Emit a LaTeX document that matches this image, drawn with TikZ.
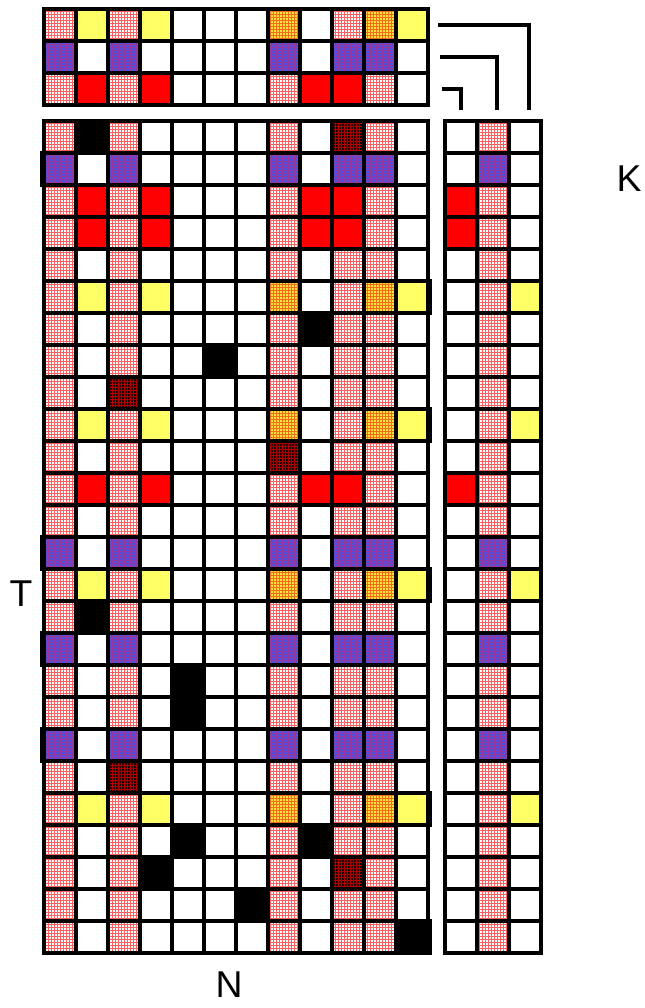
\documentclass[tikz,border=0pt]{standalone}
\usepackage{fontspec}
\setmainfont{Liberation Sans}
\usetikzlibrary{patterns}
\definecolor{cellyellow}{RGB}{255,255,102}
\definecolor{cellblue}{RGB}{80,80,220}
\definecolor{cellorange}{RGB}{255,225,70}
\definecolor{celldark}{RGB}{35,0,0}
\definecolor{plaidred}{RGB}{255,95,95}
\definecolor{plaidblue}{RGB}{150,55,160}
\definecolor{plaidorange}{RGB}{240,110,20}
\definecolor{plaiddark}{RGB}{170,0,0}
\pgfdeclarepatternformonly{plaid}{\pgfpointorigin}{\pgfpoint{2.2pt}{2.2pt}}{\pgfpoint{2.2pt}{2.2pt}}{%
  \pgfsetlinewidth{0.6pt}%
  \pgfpathmoveto{\pgfpoint{0pt}{1.1pt}}\pgfpathlineto{\pgfpoint{2.2pt}{1.1pt}}%
  \pgfpathmoveto{\pgfpoint{1.1pt}{0pt}}\pgfpathlineto{\pgfpoint{1.1pt}{2.2pt}}%
  \pgfusepath{stroke}}

\begin{document}
\begin{tikzpicture}[x=0.75pt,y=-0.75pt,font=\fontsize{28}{30}\selectfont,
  cellW/.style={fill=white},
  cellY/.style={fill=cellyellow},
  cellR/.style={fill=red},
  cellK/.style={fill=black},
  cellP/.style={fill=white,postaction={pattern=plaid,pattern color=plaidred}},
  cellB/.style={fill=cellblue,postaction={pattern=plaid,pattern color=plaidblue}},
  cellO/.style={fill=cellorange,postaction={pattern=plaid,pattern color=plaidorange}},
  cellD/.style={fill=celldark,postaction={pattern=plaid,pattern color=plaiddark}},
  gridline/.style={line width=3.3pt,line cap=rect},
  bracket/.style={line width=2.8pt},
  axislabel/.style={inner sep=1pt}]
\useasboundingbox (0,0) rectangle (644,1008);
\foreach \row [count=\r] in {
  {P,Y,P,Y,W,W,W,O,W,P,O,Y},
  {B,W,B,W,W,W,W,B,W,B,B,W},
  {P,R,P,R,W,W,W,P,R,R,P,W}} {
  \foreach \c [count=\k] in \row
    \path[cell\c] (12+32*\k,-23+32*\r) rectangle ++(32,32);
}
\foreach \row [count=\r] in {
  {P,K,P,W,W,W,W,P,W,D,P,W},
  {B,W,B,W,W,W,W,B,W,B,B,W},
  {P,R,P,R,W,W,W,P,R,R,P,W},
  {P,R,P,R,W,W,W,P,R,R,P,W},
  {P,W,P,W,W,W,W,P,W,P,P,W},
  {P,Y,P,Y,W,W,W,O,W,P,O,Y},
  {P,W,P,W,W,W,W,P,K,P,P,W},
  {P,W,P,W,W,K,W,P,W,P,P,W},
  {P,W,D,W,W,W,W,P,W,P,P,W},
  {P,Y,P,Y,W,W,W,O,W,P,O,Y},
  {P,W,P,W,W,W,W,D,W,P,P,W},
  {P,R,P,R,W,W,W,P,R,R,P,W},
  {P,W,P,W,W,W,W,P,W,P,P,W},
  {B,W,B,W,W,W,W,B,W,B,B,W},
  {P,Y,P,Y,W,W,W,O,W,P,O,Y},
  {P,K,P,W,W,W,W,P,W,P,P,W},
  {B,W,B,W,W,W,W,B,W,B,B,W},
  {P,W,P,W,K,W,W,P,W,P,P,W},
  {P,W,P,W,K,W,W,P,W,P,P,W},
  {B,W,B,W,W,W,W,B,W,B,B,W},
  {P,W,D,W,W,W,W,P,W,P,P,W},
  {P,Y,P,Y,W,W,W,O,W,P,O,Y},
  {P,W,P,W,K,W,W,P,K,P,P,W},
  {P,W,P,K,W,W,W,P,W,D,P,W},
  {P,W,P,W,W,W,K,P,W,P,P,W},
  {P,W,P,W,W,W,W,P,W,P,P,K}} {
  \foreach \c [count=\k] in \row
    \path[cell\c] (12+32*\k,89+32*\r) rectangle ++(32,32);
}
\foreach \row [count=\r] in {
  {W,P,W},{W,B,W},{R,P,W},{R,P,W},{W,P,W},{W,P,Y},{W,P,W},{W,P,W},{W,P,W},
  {W,P,Y},{W,P,W},{R,P,W},{W,P,W},{W,B,W},{W,P,Y},{W,P,W},{W,B,W},{W,P,W},
  {W,P,W},{W,B,W},{W,P,W},{W,P,Y},{W,P,W},{W,P,W},{W,P,W},{W,P,W}} {
  \foreach \c [count=\k] in \row
    \path[cell\c] (413+32*\k,89+32*\r) rectangle ++(32,32);
}
\foreach \k in {0,...,12} {
  \draw[gridline] (44+32*\k,9) -- ++(0,96);
  \draw[gridline] (44+32*\k,121) -- ++(0,832);
}
\foreach \r in {0,...,3}
  \draw[gridline] (44,9+32*\r) -- ++(384,0);
\foreach \r in {0,...,26} {
  \draw[gridline] (44,121+32*\r) -- ++(384,0);
  \draw[gridline] (445,121+32*\r) -- ++(96,0);
}
\foreach \k in {0,...,3}
  \draw[gridline] (445+32*\k,121) -- ++(0,832);
\foreach \r in {2,14,17,20}
  \fill (40,87+32*\r) rectangle (44,123+32*\r);
\foreach \r in {6,10,15,22,26}
  \fill (428,87+32*\r) rectangle (432,123+32*\r);
\draw[bracket] (438,25) -| (529,110);
\draw[bracket] (440,57) -| (497,110);
\draw[bracket] (442,89) -| (461,110);
\node[axislabel] (K) at (629,178.5) {K};
\node[axislabel] (T) at (21,594) {T};
\node[axislabel] (N) at (229,985) {N};
\end{tikzpicture}
\end{document}
